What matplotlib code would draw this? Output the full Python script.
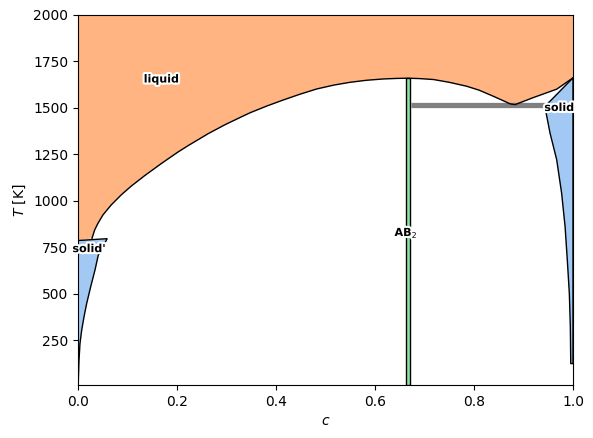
import matplotlib
matplotlib.use("Agg")
import matplotlib.pyplot as plt
import matplotlib.patheffects as pe

# ---- data ----
T_MIN, T_MAX = 10, 2000

# liquidus (bottom boundary of liquid region), composition c and temperature T
liq_c = [0.0, 0.0283, 0.0337, 0.0404, 0.0505, 0.0673, 0.0875, 0.1077, 0.1347,
         0.1683, 0.202, 0.2222, 0.2632, 0.297, 0.3307, 0.3475, 0.381, 0.4147,
         0.4485, 0.482, 0.5168, 0.5495, 0.583, 0.617, 0.645, 0.6667,
         0.69, 0.718, 0.75, 0.785, 0.81, 0.839, 0.86, 0.873, 0.883,
         0.92, 0.967, 1.0]
liq_T = [787, 799, 844, 880, 925, 979, 1033, 1080, 1136,
         1201, 1263, 1297, 1362, 1410, 1453, 1474, 1510, 1543,
         1574, 1602, 1623, 1638, 1649, 1656, 1659, 1660,
         1658, 1653, 1638, 1617, 1596, 1563, 1538, 1522, 1518,
         1556, 1601, 1662]

# left solid' region outline
sl_c = [0.0, 0.059, 0.041, 0.0343, 0.0256, 0.0175, 0.0121, 0.0074, 0.004,
        0.002, 0.0007, 0.0007, 0.0]
sl_T = [787, 797, 709, 628, 538, 448, 376, 304, 233,
        142, 35, 30, 30]

# right solid region outline
sr_c = [1.0, 0.9535, 0.943, 0.9535, 0.967, 0.977, 0.984, 0.9885, 0.9926,
        0.9946, 0.9954, 0.9954, 1.0]
sr_T = [1662, 1536, 1510, 1366, 1222, 1042, 862, 682, 502,
        322, 142, 125, 125]

# AB2 line compound
ab2_c = 2 / 3
ab2_halfwidth = 0.005
ab2_Ttop = 1660

# eutectic tie line
eut_c = [0.672, 0.943]
eut_T = [1515, 1515]

labels = ["liquid", "solid'", "solid", "AB$_2$"]
label_c = [0.168, 0.022, 0.972, 0.663]
label_T = [1653, 741, 1500, 828]

col_liquid = "#FFB482"
col_solid = "#A1C9F4"
col_ab2 = "#8DE5A1"

fig = plt.figure(figsize=(5.93, 4.38), dpi=100)
ax = fig.add_axes([78 / 593, 1 - 385 / 438, 495 / 593, 370 / 438])

# liquid region
poly_c = list(liq_c) + [1.0, 0.0]
poly_T = list(liq_T) + [T_MAX, T_MAX]
ax.fill(poly_c, poly_T, facecolor=col_liquid, edgecolor="none", zorder=1)
ax.plot(liq_c[1:], liq_T[1:], color="black", lw=1, zorder=3)

# solid regions
ax.fill(sl_c, sl_T, facecolor=col_solid, edgecolor="black", lw=1, zorder=2)
ax.fill(sr_c, sr_T, facecolor=col_solid, edgecolor="black", lw=1, zorder=2)

# eutectic line
ax.plot(eut_c, eut_T, color="gray", lw=3.8, zorder=2, solid_capstyle="butt")

# AB2 bar
ax.fill([ab2_c - ab2_halfwidth, ab2_c + ab2_halfwidth, ab2_c + ab2_halfwidth, ab2_c - ab2_halfwidth],
        [T_MIN, T_MIN, ab2_Ttop, ab2_Ttop], facecolor=col_ab2, edgecolor="black", lw=1, zorder=4)

for s, c, t in zip(labels, label_c, label_T):
    ax.text(c, t, s, ha="center", va="center", fontsize=8, fontweight="bold", zorder=6,
            path_effects=[pe.withStroke(linewidth=3, foreground="white")])

ax.set_xlim(0, 1)
ax.set_ylim(T_MIN, T_MAX)
ax.set_xlabel("$c$")
ax.set_ylabel("$T$ [K]")

fig.savefig("out.png", dpi=100)
